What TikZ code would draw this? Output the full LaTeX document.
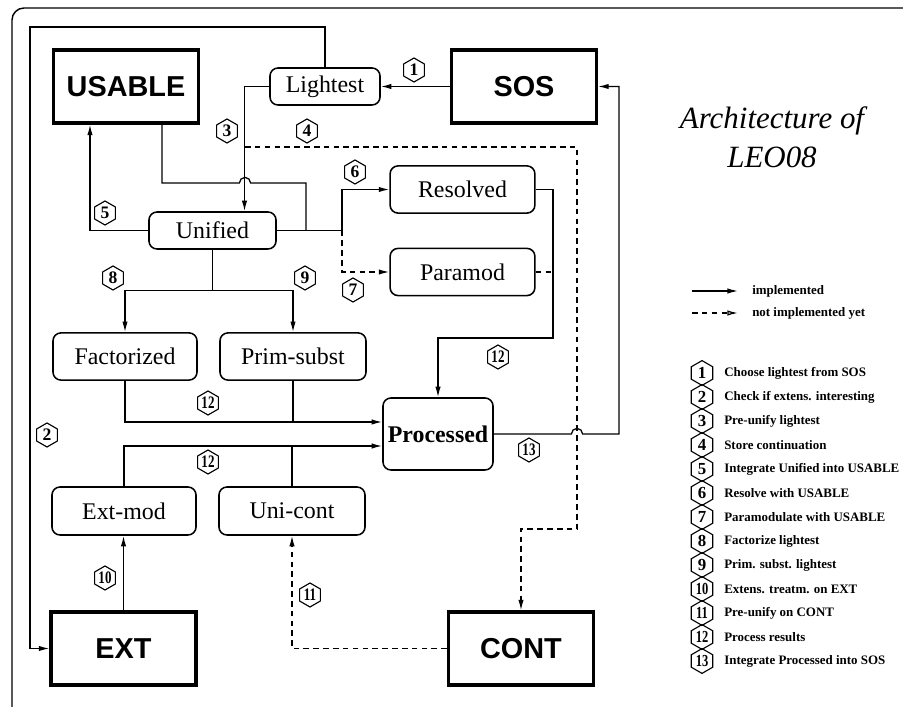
\documentclass[tikz,border=0pt]{standalone}
\usepackage{fontspec}
\setmainfont{Liberation Serif}
\setsansfont{Liberation Sans}
\usetikzlibrary{arrows.meta,positioning,shapes.geometric}
\newcommand{\hexdigits}[1]{\scalebox{0.74}[1]{#1}}

\begin{document}
\begin{tikzpicture}[x=0.025cm,y=-0.025cm,
  store/.style={draw,line width=2.4pt,minimum width=3.62cm,minimum height=1.82cm,
    font=\sffamily\bfseries\fontsize{20.5}{24}\selectfont},
  stage/.style={draw,line width=1.1pt,rounded corners=2mm,minimum height=1.18cm,
    inner sep=2pt,font=\fontsize{17}{20}\selectfont},
  hexnum/.style={draw,regular polygon,regular polygon sides=6,shape border rotate=90,
    minimum size=0.6cm,inner sep=0pt,line width=0.8pt,font=\bfseries\fontsize{12.5}{13}\selectfont},
  keyhex/.style={hexnum,minimum size=0.62cm,font=\bfseries\fontsize{12}{12}\selectfont},
  keytext/.style={anchor=west,inner sep=0pt,font=\bfseries\fontsize{9.2}{11}\selectfont},
  wire/.style={line width=0.9pt},
  conn/.style={wire,-{Latex[length=7.5pt,width=3.8pt]}},
  dwire/.style={wire,dash pattern=on 4pt off 3pt},
  dconn/.style={conn,dash pattern=on 4pt off 3pt}]
  \useasboundingbox (0,0) rectangle (903,707);

  % frame
  \draw[line width=1pt,rounded corners=3mm] (12,8) rectangle (980,780);

  % stores
  \node[store] (usable) at (126,86.5) {USABLE};
  \node[store] (sos) at (524,86.5) {SOS};
  \node[store] (ext) at (123.5,648.5) {EXT};
  \node[store] (cont) at (521,648.5) {CONT};

  % stages
  \node[stage,minimum width=2.75cm,minimum height=0.925cm] (lightest) at (325,86.5) {Lightest};
  \node[stage,minimum width=3.175cm,minimum height=0.925cm] (unified) at (212.5,230.5) {Unified};
  \node[stage,minimum width=3.62cm] (resolved) at (462.5,189.5) {Resolved};
  \node[stage,minimum width=3.62cm] (paramod) at (462.5,272) {Paramod};
  \node[stage,minimum width=3.6cm] (factorized) at (125,356.5) {Factorized};
  \node[stage,minimum width=3.65cm] (primsubst) at (293,356.5) {Prim-subst};
  \node[stage,minimum width=2.75cm,minimum height=1.8cm,
    font=\bfseries\fontsize{17}{20}\selectfont] (processed) at (438,434) {Processed};
  \node[stage,minimum width=3.6cm,minimum height=1.2cm] (extmod) at (124,511) {Ext-mod};
  \node[stage,minimum width=3.65cm,minimum height=1.2cm] (unicont) at (292,511) {Uni-cont};

  % title
  \node[font=\itshape\fontsize{22}{28}\selectfont,align=center] (title) at (772,137)
    {Architecture of\\LEO08};

  % turning points
  \coordinate (loop) at (30,27);
  \coordinate (store4) at (245,147);
  \coordinate (cturn) at (577,529);
  \coordinate (hop1) at (245,183);
  \coordinate (join) at (306,230.5);
  \coordinate (split) at (342,230.5);
  \coordinate (fork) at ([yshift=-1.025cm]unified.south);
  \coordinate (rturn) at (553,338);
  \coordinate (hop2) at (577,434);
  \coordinate (sturn) at (619,434);
  \coordinate (pin1) at ([yshift=0.3cm]processed.west);
  \coordinate (pin2) at ([yshift=-0.3cm]processed.west);

  % connectors
  \draw[conn] (sos) -- (lightest);
  \draw[conn] (lightest.north) |- (loop) |- (ext.west);
  \draw[conn] (lightest.west) -| ([xshift=0.8cm]unified.north);
  \draw[dconn] (store4) -| (cturn) -| (cont.north);
  \draw[wire] ([xshift=0.9cm]usable.south) |- ([xshift=-1.4mm]hop1)
    arc[start angle=180,end angle=0,radius=1.4mm] -| (join);
  \draw[conn] (unified.east) -- (split) |- (resolved.west);
  \draw[dconn] (split) |- (paramod.west);
  \draw[conn] (unified.west) -| ([xshift=-0.9cm]usable.south);
  \draw[conn] (unified.south) -- (fork) -| (factorized.north);
  \draw[conn] (fork) -| (primsubst.north);
  \draw[conn] (factorized.south) |- (pin1);
  \draw[wire] (primsubst.south) -- (primsubst.south |- pin1);
  \draw[conn] (extmod.north) |- (pin2);
  \draw[wire] (unicont.north) -- (unicont.north |- pin2);
  \draw[conn] (ext.north) -- (ext.north |- extmod.south);
  \draw[dconn] (cont.west) -| (unicont.south);
  \draw[conn] (resolved.east) -| (rturn) -| (processed.north);
  \draw[dwire] (paramod.east) -- (paramod.east -| rturn);
  \draw[conn] (processed.east) -- ([xshift=-1.4mm]hop2)
    arc[start angle=180,end angle=0,radius=1.4mm] -- (sturn) |- (sos.east);

  % step numbers
  \node[hexnum] (l1) at (414,70) {1};
  \node[hexnum] (l2) at (47,435) {2};
  \node[hexnum] (l3) at (227,131) {3};
  \node[hexnum] (l4) at (307,131) {4};
  \node[hexnum] (l5) at (105,213) {5};
  \node[hexnum] (l6) at (355,172) {6};
  \node[hexnum] (l7) at (353,290) {7};
  \node[hexnum] (l8) at (113,278) {8};
  \node[hexnum] (l9) at (305,278) {9};
  \node[hexnum] (l10) at (105,578) {\hexdigits{10}};
  \node[hexnum] (l11) at (310,595) {\hexdigits{11}};
  \node[hexnum] (l12a) at (208,403) {\hexdigits{12}};
  \node[hexnum] (l12b) at (208,462) {\hexdigits{12}};
  \node[hexnum] (l12c) at (498,357) {\hexdigits{12}};
  \node[hexnum] (l13) at (529,450) {\hexdigits{13}};

  % legend
  \coordinate (impa) at (692,291);
  \coordinate (impb) at (738,291);
  \coordinate (nota) at (692,313);
  \coordinate (notb) at (738,313);
  \draw[conn] (impa) -- (impb);
  \draw[dwire,-{Latex[open,length=7.5pt,width=3.8pt]}] (nota) -- (notb);
  \node[keytext,right=0.35cm of impb] (impt) {implemented};
  \node[keytext,right=0.35cm of notb] (nott) {not implemented yet};

  \foreach \n/\txt in {1/Choose lightest from SOS,2/Check if extens. interesting,
      3/Pre-unify lightest,4/Store continuation,5/Integrate Unified into USABLE,
      6/Resolve with USABLE,7/Paramodulate with USABLE,8/Factorize lightest,
      9/Prim. subst. lightest,10/Extens. treatm. on EXT,11/Pre-unify on CONT,
      12/Process results,13/Integrate Processed into SOS} {
    \node[keyhex] (key\n) at (702,{373+24*(\n-1)})
      {\ifnum\n>9 \hexdigits{\n}\else\n\fi};
    \node[keytext] (keyt\n) at (724,{373+24*(\n-1)}) {\txt};
  }
\end{tikzpicture}
\end{document}
